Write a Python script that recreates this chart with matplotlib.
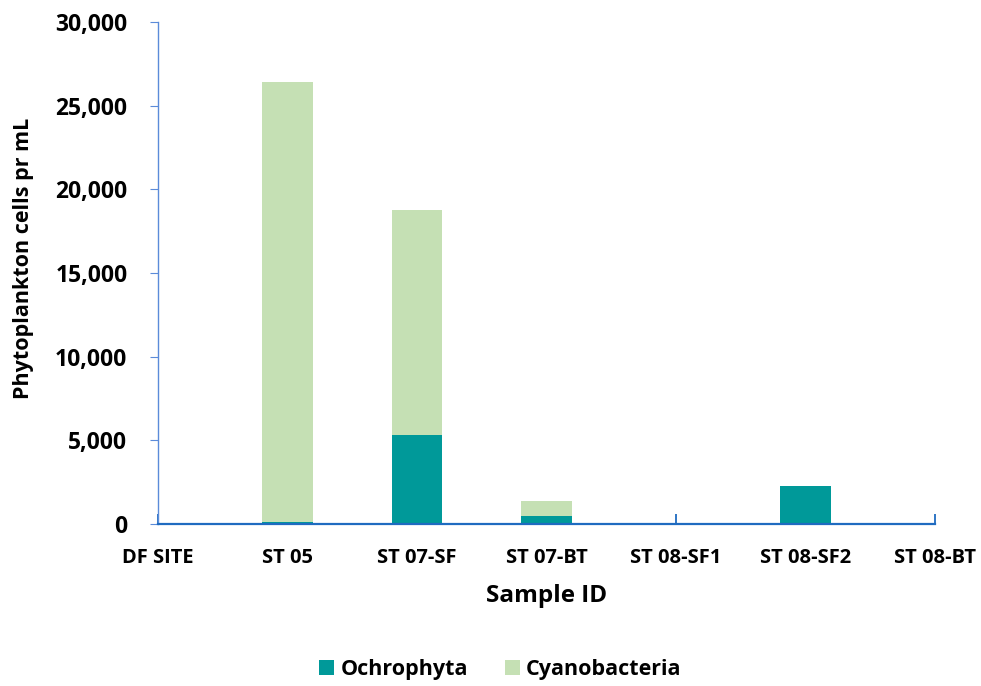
import numpy as np
import matplotlib.pyplot as plt
from matplotlib.ticker import FuncFormatter

# sample sites and cell counts (cells per mL)
sites = ['DF SITE', 'ST 05', 'ST 07-SF', 'ST 07-BT', 'ST 08-SF1', 'ST 08-SF2', 'ST 08-BT']
ochrophyta = [0, 150, 5350, 500, 20, 2300, 0]
cyanobacteria = [0, 26250, 13400, 900, 40, 0, 40]

teal = '#009999'
lightgreen = '#C5E0B4'

plt.rcParams['font.family'] = ['Open Sans', 'DejaVu Sans']
plt.rcParams['font.weight'] = 'bold'

fig = plt.figure(figsize=(9.81, 6.86), dpi=100)
ax = fig.add_axes([0.161, 0.236, 0.792, 0.732])

x = np.arange(len(sites))
w = 0.39
ax.bar(x, ochrophyta, w, color=teal, label='Ochrophyta', zorder=2)
ax.bar(x, cyanobacteria, w, bottom=ochrophyta, color=lightgreen,
       label='Cyanobacteria', zorder=2)

ax.set_xlim(0, len(sites) - 1)
ax.set_ylim(0, 30000)
ax.set_yticks(np.arange(0, 30001, 5000))
ax.yaxis.set_major_formatter(FuncFormatter(lambda v, p: f'{int(v):,}'))
ax.set_xticks(x)
ax.set_xticklabels(sites, fontsize=14.5, fontweight='bold')
for lab in ax.get_yticklabels():
    lab.set_fontsize(16.5)
    lab.set_fontweight('bold')

for s in ['top', 'right']:
    ax.spines[s].set_visible(False)
ax.spines['left'].set_color('#5B8BD9')
ax.spines['left'].set_linewidth(1.0)
ax.spines['bottom'].set_color('#1F6BC0')
ax.spines['bottom'].set_linewidth(1.6)
ax.spines['bottom'].set_zorder(3)

ax.tick_params(axis='y', direction='out', length=6, color='#5B8BD9', pad=16)
ax.tick_params(axis='x', direction='in', length=7, width=1.3, color='#1F6BC0', pad=17)

ax.set_xlabel('Sample ID', fontsize=17.5, fontweight='bold', labelpad=12)
ax.set_ylabel('Phytoplankton cells pr mL', fontsize=15.5, fontweight='bold')
ax.yaxis.set_label_coords(-0.160, 0.53)

fig.legend(loc='lower center', ncol=2, frameon=False, fontsize=15.5,
           handlelength=0.7, handleheight=0.7, columnspacing=1.7,
           handletextpad=0.3, bbox_to_anchor=(0.51, -0.02))

fig.savefig('out.png', dpi=100)
